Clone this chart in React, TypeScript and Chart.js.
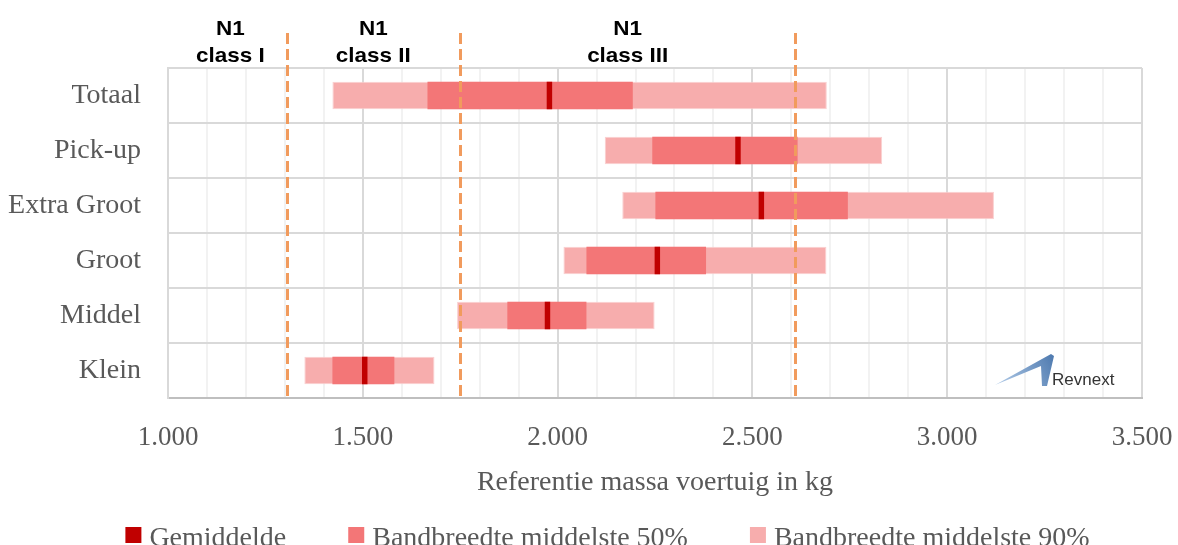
import React, { useEffect, useRef } from "react";
import { Chart, registerables } from "chart.js";

Chart.register(...registerables);

// ---- data ----
const categories = ["Totaal", "Pick-up", "Extra Groot", "Groot", "Middel", "Klein"];
const meanValues = [1979, 2463, 2523, 2256, 1974, 1505];
const p50Low = [1666, 2243, 2251, 2074, 1871, 1422];
const p50High = [2193, 2616, 2745, 2381, 2074, 1581];
const p90Low = [1422, 2121, 2166, 2015, 1742, 1350];
const p90High = [2691, 2833, 3120, 2690, 2249, 1684];
const classBoundaries = [1305, 1750, 2610];
const classTitle = "N1";
const classNames = ["class I", "class II", "class III"];
const classLabelValues = [1160, 1527, 2180];
const legendLabels = ["Gemiddelde", "Bandbreedte middelste 50%", "Bandbreedte middelste 90%"];
const xAxisTitle = "Referentie massa voertuig in kg";
const xMin = 1000;
const xMax = 3500;
const logoText = "Revnext";

// ---- styles ----
const COLOR_MEAN = "#C00000";
const COLOR_50 = "#F37677";
const COLOR_90 = "#F7ADAD";
const COLOR_DASH = "#F19B5D";
const TEXT = "#595959";
const SERIF = "'Liberation Serif', 'Times New Roman', serif";
const SANS = "'Liberation Sans', Arial, sans-serif";
const MEAN_HALF = 7;

const fmt = (v: number) => String(v).replace(/\B(?=(\d{3})+(?!\d))/g, ".");

const overlayPlugin = {
  id: "overlay",
  afterDatasetsDraw(chart: any) {
    const { ctx, chartArea, scales } = chart;
    const x = scales.x;
    ctx.save();
    ctx.strokeStyle = COLOR_DASH;
    ctx.lineWidth = 3;
    ctx.setLineDash([11, 5]);
    classBoundaries.forEach((v) => {
      const px = Math.round(x.getPixelForValue(v)) + 0.5;
      ctx.beginPath();
      ctx.moveTo(px, chartArea.top - 35);
      ctx.lineTo(px, chartArea.bottom);
      ctx.stroke();
    });
    ctx.restore();
  },
  afterDraw(chart: any) {
    const { ctx, chartArea, scales } = chart;
    const x = scales.x;
    ctx.save();
    // class labels
    ctx.fillStyle = "#000000";
    ctx.font = `bold 21px ${SANS}`;
    ctx.textAlign = "center";
    ctx.textBaseline = "alphabetic";
    classNames.forEach((name, i) => {
      const px = x.getPixelForValue(classLabelValues[i]);
      [classTitle, name].forEach((t, j) => {
        ctx.save();
        ctx.translate(px, chartArea.top - 33 + j * 27);
        ctx.scale(1.07, 1);
        ctx.fillText(t, 0, 0);
        ctx.restore();
      });
    });

    // logo
    const lx = chartArea.right - 147;
    const ly = chartArea.bottom - 13;
    const grad = ctx.createLinearGradient(lx, ly, lx + 60, ly - 30);
    grad.addColorStop(0, "#B5CEEA");
    grad.addColorStop(1, "#4C78AE");
    ctx.fillStyle = grad;
    ctx.beginPath();
    ctx.moveTo(lx, ly);
    ctx.lineTo(lx + 56, ly - 31);
    ctx.lineTo(lx + 59, ly - 29);
    ctx.lineTo(lx + 52, ly + 1);
    ctx.lineTo(lx + 47, ly + 1);
    ctx.lineTo(lx + 46, ly - 19);
    ctx.closePath();
    ctx.fill();
    ctx.fillStyle = "#333333";
    ctx.font = `17px ${SANS}`;
    ctx.textAlign = "left";
    ctx.fillText(logoText, lx + 57, ly);

    // legend
    const colors = [COLOR_MEAN, COLOR_50, COLOR_90];
    ctx.font = `28px ${SERIF}`;
    const box = 16;
    const gapBox = 8;
    const gapItem = 62;
    const widths = legendLabels.map((l) => ctx.measureText(l).width);
    const total = widths.reduce((a, w) => a + box + gapBox + w, 0) + gapItem * (legendLabels.length - 1);
    let cx = 607.5 - total / 2;
    const baseY = 546;
    legendLabels.forEach((l, i) => {
      ctx.fillStyle = colors[i];
      ctx.fillRect(cx, baseY - 19, box, box);
      ctx.fillStyle = TEXT;
      ctx.textAlign = "left";
      ctx.fillText(l, cx + box + gapBox, baseY);
      cx += box + gapBox + widths[i] + gapItem;
    });
    ctx.restore();
  },
};

export default function App() {
  const ref = useRef<HTMLCanvasElement | null>(null);
  useEffect(() => {
    if (!ref.current) return;
    const chart = new Chart(ref.current, {
      type: "bar",
      data: {
        labels: categories,
        datasets: [
          {
            label: legendLabels[0],
            data: meanValues.map((m) => [m - MEAN_HALF, m + MEAN_HALF]),
            backgroundColor: COLOR_MEAN,
            grouped: false,
          } as any,
          {
            label: legendLabels[1],
            data: p50Low.map((lo, i) => [lo, p50High[i]]),
            backgroundColor: COLOR_50,
            grouped: false,
          },
          {
            label: legendLabels[2],
            data: p90Low.map((lo, i) => [lo, p90High[i]]),
            backgroundColor: COLOR_90,
            borderColor: "#FAD0D0",
            borderWidth: 1,
            borderSkipped: false,
            grouped: false,
          },
        ],
      },
      options: {
        indexAxis: "y",
        animation: false,
        responsive: false,
        maintainAspectRatio: false,
        datasets: { bar: { barPercentage: 0.5, categoryPercentage: 1 } },
        layout: { padding: { top: 68, right: 36, left: 0, bottom: 0 } },
        plugins: {
          legend: { display: false },
          tooltip: { enabled: false },
        },
        scales: {
          x: {
            type: "linear",
            min: xMin,
            max: xMax,
            ticks: {
              stepSize: 100,
              autoSkip: false,
              maxRotation: 0,
              padding: 24,
              color: TEXT,
              font: { family: SERIF, size: 27 },
              callback: (v: any) => (Number(v) % 500 === 0 ? fmt(Number(v)) : ""),
            },
            grid: {
              drawTicks: false,
              lineWidth: 2,
              color: (c: any) => (c.tick && c.tick.value % 500 === 0 ? "#D9D9D9" : "#F2F2F2"),
            },
            border: { display: true, color: "#BFBFBF", width: 2 },
            title: {
              display: true,
              text: xAxisTitle,
              color: TEXT,
              font: { family: SERIF, size: 28 },
              padding: { top: 0, bottom: 46 },
            },
            afterFit: (s: any) => {
              s.height = 147;
              s.paddingLeft = 0;
              s.paddingRight = 0;
            },
          },
          y: {
            type: "category",
            ticks: {
              color: TEXT,
              padding: 27,
              font: { family: SERIF, size: 28 },
            },
            grid: { drawTicks: false, lineWidth: 2, color: "#D9D9D9", offset: true },
            border: { display: true, color: "#D9D9D9", width: 2 },
            afterFit: (s: any) => {
              s.width = 168;
              s.paddingTop = 0;
              s.paddingBottom = 0;
            },
          },
        },
      },
      plugins: [overlayPlugin],
    } as any);
    return () => chart.destroy();
  }, []);
  return (
    <div style={{ position: "fixed", left: 0, top: 0, width: 1178, height: 545, background: "#fff" }}>
      <canvas ref={ref} width={1178} height={545} style={{ display: "block" }} />
    </div>
  );
}
